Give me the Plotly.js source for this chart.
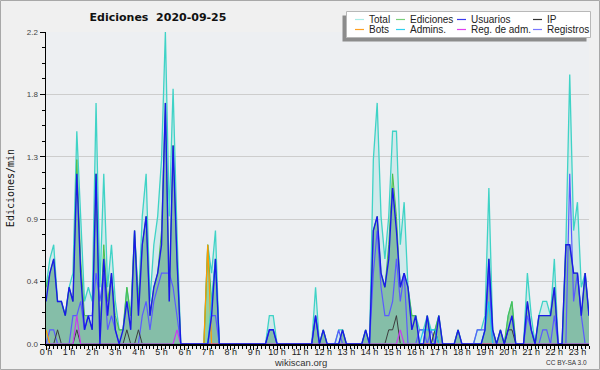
<!DOCTYPE html>
<html>
<head>
<meta charset="utf-8">
<script src="https://cdn.plot.ly/plotly-3.0.1.min.js"></script>
<style>html,body{margin:0;padding:0;background:#f0f0f0;}#chart{width:600px;height:370px;}</style>
</head>
<body>
<div id="chart"></div>
<script>
// 10-minute slots, 00:00 .. 23:30 (edits per minute)
const hourLabels = ["0 h","1 h","2 h","3 h","4 h","5 h","6 h","7 h","8 h","9 h","10 h","11 h","12 h","13 h","14 h","15 h","16 h","17 h","18 h","19 h","20 h","21 h","22 h","23 h"];
const yTickVals = [0, 0.44, 0.88, 1.32, 1.76, 2.2];
const yTickText = ["0.0","0.4","0.9","1.3","1.8","2.2"];

const total = [
 0.4,0.6,0.7,0.3,0.3,0.2,  0.4,0.5,1.5,0.9,0.3,0.4,  0.3,1.7,0.4,1.2,0.4,0.7,  0.3,0.1,0.1,0.4,0.2,0.8,
 0.3,0.9,1.2,0.3,0.7,0.9,  1.3,2.2,0.9,1.8,0.8,0,    0,0,0,0,0,0,              0.7,0.5,0.8,0,0,0,
 0,0,0,0,0,0,              0,0,0,0,0.2,0.2,          0,0,0,0,0,0,              0,0,0,0,0.4,0,
 0.1,0,0,0,0.1,0.1,        0,0,0,0,0,0.1,            0,1.3,1.7,0.9,0.6,0.9,    1.5,1.5,0.7,1.0,0.4,0.2,
 0.2,0.1,0.1,0.2,0.1,0.1,  0.2,0,0,0,0,0.1,          0,0,0,0,0.1,0.1,          0.2,1.1,0.1,0,0.1,0,
 0.2,0.3,0,0,0,0.5,        0.2,0,0.2,0.3,0.3,0.2,    0.6,0,0,0.7,1.9,0.8,      1.0,0.4,0.5,0.2];
const ediciones = [
 0.4,0.5,0.6,0.3,0.3,0.2,  0.4,0.3,1.3,0.6,0.2,0.2,  0.1,1.2,0.1,0.7,0.3,0.5,  0.2,0.1,0.1,0.4,0.2,0.8,
 0.3,0.7,0.9,0.2,0.4,0.5,  0.8,1.7,0.4,1.4,0.6,0,    0,0,0,0,0,0,              0.7,0.3,0.6,0,0,0,
 0,0,0,0,0,0,              0,0,0,0,0.1,0.1,          0,0,0,0,0,0,              0,0,0,0,0.2,0,
 0.1,0,0,0,0,0.1,          0,0,0,0,0,0.1,            0,0.8,0.9,0.5,0.4,0.7,    1.2,0.9,0.4,0.5,0.4,0.2,
 0.2,0,0,0.2,0,0.1,        0.2,0,0,0,0,0.1,          0,0,0,0,0,0,              0.1,0.6,0.1,0,0.1,0,
 0.2,0.3,0,0,0,0.3,        0.1,0,0.2,0.2,0.2,0.2,    0.4,0,0,0.7,0.7,0.5,      0.5,0.2,0.5,0.2];
const usuarios = [
 0.3,0.5,0.6,0.3,0.3,0.2,  0.4,0.3,1.2,0.5,0.1,0.2,  0.1,1.2,0,0.6,0.2,0.5,    0.1,0,0.1,0.3,0.1,0.8,
 0.2,0.7,0.9,0.2,0.4,0.5,  0.7,1.7,0.3,1.4,0.6,0,    0,0,0,0,0,0,              0,0.2,0.6,0,0,0,
 0,0,0,0,0,0,              0,0,0,0,0.1,0.1,          0,0,0,0,0,0,              0,0,0,0,0.2,0,
 0.1,0,0,0,0,0.1,          0,0,0,0,0,0.1,            0,0.8,0.9,0.5,0.4,0.6,    1.1,0.8,0.4,0.5,0.4,0.1,
 0.2,0,0,0.2,0,0,          0.2,0,0,0,0,0.1,          0,0,0,0,0,0,              0.1,0.6,0.1,0,0.1,0,
 0.1,0.2,0,0,0,0.3,        0.1,0,0.2,0.2,0.2,0.2,    0.4,0,0,0.7,0.7,0.5,      0.5,0.2,0.5,0.2];
const ip = [
 0,0,0,0.1,0,0,            0,0,0.1,0,0,0,            0,0,0,0,0,0,              0,0,0,0.1,0,0,
 0.1,0,0,0,0,0,            0,0,0,0,0,0,              0,0,0,0,0,0,              0,0,0,0,0,0,
 0,0,0,0,0,0,              0,0,0,0,0,0,              0,0,0,0,0,0,              0,0,0,0,0,0,
 0,0,0,0,0,0,              0,0,0,0,0,0,              0,0,0,0,0,0.1,            0.1,0.2,0,0,0,0,
 0,0,0,0,0,0.1,            0,0,0,0,0,0,              0,0,0,0,0,0,              0,0,0,0,0,0,
 0.1,0.1,0,0,0,0,          0,0,0,0,0,0,              0,0,0,0,0,0,              0,0,0,0];
const bots = [
 0.1,0,0,0,0,0,            0,0,0,0,0,0,              0,0,0,0,0,0,              0,0,0,0,0,0,
 0,0,0,0,0,0,              0,0,0,0,0,0,              0,0,0,0,0,0,              0.7,0,0,0,0,0,
 0,0,0,0,0,0,              0,0,0,0,0,0,              0,0,0,0,0,0,              0,0,0,0,0,0,
 0,0,0,0,0,0,              0,0,0,0,0,0,              0,0,0,0,0,0,              0,0,0,0,0,0,
 0,0,0,0,0,0,              0,0,0,0,0,0,              0,0,0,0,0,0,              0,0,0,0,0,0,
 0,0,0,0,0,0,              0,0,0,0,0,0,              0,0,0,0,0,0,              0,0,0,0];
const admins = [
 0,0,0,0,0,0,              0,0,0,0,0,0,              0,0,0,0,0,0,              0,0,0,0,0,0,
 0,0,0,0,0,0,              0,0,0,0,0,0,              0,0,0,0,0,0,              0,0.3,0.6,0,0,0,
 0,0,0,0,0,0,              0,0,0,0,0,0,              0,0,0,0,0,0,              0,0,0,0,0,0,
 0,0,0,0,0,0,              0,0,0,0,0,0,              0,0,0,0,0,0,              0,0,0,0,0,0,
 0,0,0.1,0.1,0.1,0.1,      0,0,0,0,0,0,              0,0,0,0,0,0,              0.1,0.3,0,0,0,0,
 0,0,0,0,0,0,              0,0,0,0,0,0,              0,0,0,0,0,0,              0,0,0,0];
const regAdm = [
 0,0,0,0,0,0,              0,0,0.2,0,0,0,            0,0,0,0,0,0,              0,0,0,0,0,0,
 0,0,0,0,0,0,              0,0,0,0,0.1,0,            0,0,0,0,0,0,              0,0,0,0,0,0,
 0,0,0,0,0,0,              0,0,0,0,0,0,              0,0,0,0,0,0,              0,0,0,0,0,0,
 0,0,0,0,0,0,              0,0,0,0,0,0,              0,0,0,0,0,0,              0,0,0.1,0,0,0,
 0,0,0,0,0,0,              0,0,0,0,0,0,              0,0,0,0,0,0,              0,0,0,0,0,0,
 0,0,0,0,0,0,              0,0,0,0,0,0,              0,0,0,0,0,0,              0,0,0,0];
const registros = [
 0,0.1,0.1,0,0,0,          0,0.2,0.2,0.3,0.1,0.2,    0.2,0.5,0.3,0.5,0.1,0.2,  0.1,0,0,0,0,0,
 0,0.2,0.3,0.1,0.3,0.4,    0.5,0.5,0.5,0.4,0.2,0,    0,0,0,0,0,0,              0,0.2,0.2,0,0,0,
 0,0,0,0,0,0,              0,0,0,0,0.1,0.1,          0,0,0,0,0,0,              0,0,0,0,0.2,0,
 0,0,0,0,0.1,0,            0,0,0,0,0,0,              0,0.5,0.8,0.4,0.2,0.2,    0.3,0.6,0.3,0.5,0,0,
 0,0.1,0.1,0,0.1,0,        0,0,0,0,0,0,              0,0,0,0,0.1,0.1,          0.1,0.5,0,0,0,0,
 0,0,0,0,0,0.2,            0.1,0,0,0.1,0.1,0,        0.2,0,0,0,1.2,0.3,        0.5,0.2,0,0];

const names = ["Total","Ediciones","Usuarios","IP","Bots","Admins.","Reg. de adm.","Registros"];
const colors = {"Total":"#3fd3c6","Ediciones":"#4cbf4c","Usuarios":"#1a1ae8","IP":"#3c3c3c","Bots":"#ff9a00","Admins.":"#1fc8e8","Reg. de adm.":"#c83cf0","Registros":"#5a5aff"};
const legendColors = {"Total":"#a8ece6","Ediciones":"#7ad07a","Usuarios":"#3a3af0","IP":"#333333","Bots":"#ffa020","Admins.":"#30d0ee","Reg. de adm.":"#e040f0","Registros":"#7878ff"};

const x = total.map((_, i) => i / 6);

function tr(name, y, opts) {
  return Object.assign({type:"scatter", mode:"lines", name:name, x:x, y:y,
    line:{color:colors[name], width:1.2}, hoverinfo:"skip", showlegend:false}, opts || {});
}
const data = [
  tr("Total", total, {fill:"tozeroy", fillcolor:"rgba(64,208,196,0.16)", line:{color:colors["Total"], width:1.3}}),
  tr("Ediciones", ediciones, {fill:"tozeroy", fillcolor:"rgba(70,180,70,0.45)", line:{color:colors["Ediciones"], width:1}}),
  tr("Usuarios", usuarios, {fill:"tozeroy", fillcolor:"rgba(30,60,220,0.12)", line:{color:"rgba(0,0,0,0)", width:0}}),
  tr("Registros", registros, {line:{color:colors["Registros"], width:1.2}}),
  tr("IP", ip, {line:{color:colors["IP"], width:1}}),
  tr("Bots", bots, {line:{color:colors["Bots"], width:1.2}}),
  tr("Admins.", admins, {line:{color:colors["Admins."], width:1.2}}),
  tr("Reg. de adm.", regAdm, {line:{color:colors["Reg. de adm."], width:1.2}}),
  tr("Usuarios", usuarios, {line:{color:colors["Usuarios"], width:1.4}})
];

// pixel -> paper helpers (plot area: x 46..589, y 32..344)
const L = 46, R = 589, T = 32, B = 344;
const px = v => (v - L) / (R - L);
const py = v => (B - v) / (B - T);

const shapes = [
  {type:"rect", xref:"paper", yref:"paper", x0:px(0.5), x1:px(599.5), y0:py(369.5), y1:py(0.5), line:{color:"#a8a8a8", width:1}, fillcolor:"rgba(0,0,0,0)", layer:"below"},
  {type:"rect", xref:"paper", yref:"paper", x0:px(342.5), x1:px(586.5), y0:py(41.5), y1:py(15.5), line:{width:0}, fillcolor:"#8c8c8c"},
  {type:"rect", xref:"paper", yref:"paper", x0:px(346.5), x1:px(590.5), y0:py(37.5), y1:py(11.5), line:{color:"#b8b8b8", width:1}, fillcolor:"#ffffff"}
];
const annotations = [
  {text:"wikiscan.org", xref:"paper", yref:"paper", x:px(300), y:py(362), showarrow:false, xanchor:"center", yanchor:"middle", font:{family:"Liberation Sans, Arial, sans-serif", size:9.5, color:"#333"}},
  {text:"CC BY-SA 3.0", xref:"paper", yref:"paper", x:px(589), y:py(362.5), showarrow:false, xanchor:"right", yanchor:"middle", font:{family:"Liberation Sans, Arial, sans-serif", size:6.5, color:"#333"}}
];
const colX = [367, 408, 469, 545];
const rowY = [19.5, 29.5];
names.forEach((n, k) => {
  const cx = colX[k % 4], cy = rowY[Math.floor(k / 4)];
  shapes.push({type:"line", xref:"paper", yref:"paper", x0:px(cx - 12), x1:px(cx - 3), y0:py(cy), y1:py(cy), line:{color:legendColors[n], width:1.2}});
  annotations.push({text:n, xref:"paper", yref:"paper", x:px(cx), y:py(cy), showarrow:false, xanchor:"left", yanchor:"middle", font:{family:"Liberation Sans, Arial, sans-serif", size:10, color:"#222"}});
});

const layout = {
  width:600, height:370,
  margin:{l:L, r:600 - R, t:T, b:370 - B, pad:0},
  paper_bgcolor:"#f0f0f0", plot_bgcolor:"#edeff2",
  showlegend:false,
  title:{text:"<b>Ediciones\u00a0\u00a02020-09-25</b>", xref:"container", yref:"container", x:158/600, xanchor:"center", y:1 - 17/370, yanchor:"middle",
    font:{family:"DejaVu Sans, sans-serif", size:11, color:"#111"}},
  xaxis:{range:[0, 141/6], tickmode:"array", tickvals:hourLabels.map((_, h) => h), ticktext:hourLabels,
    ticks:"outside", ticklen:4, tickwidth:1, tickcolor:"#000", showline:true, linecolor:"#000", linewidth:1.5,
    ticklabelstandoff:-5,
    showgrid:false, zeroline:false, fixedrange:true,
    tickfont:{family:"Liberation Sans, Arial, sans-serif", size:9, color:"#222"},
    minor:{tickmode:"linear", tick0:0, dtick:1/6, ticks:"outside", ticklen:3, tickcolor:"#000", tickwidth:1, showgrid:false}},
  yaxis:{range:[0, 2.2], tickmode:"array", tickvals:yTickVals, ticktext:yTickText,
    ticks:"outside", ticklen:5, tickwidth:1, tickcolor:"#000", showline:true, linecolor:"#000", linewidth:1.5,
    showgrid:true, gridcolor:"#cdcdcd", gridwidth:1, zeroline:false, fixedrange:true,
    tickfont:{family:"Liberation Sans, Arial, sans-serif", size:8, color:"#444"},
    minor:{tickmode:"linear", tick0:0, dtick:0.11, ticks:"outside", ticklen:3, tickcolor:"#000", tickwidth:1, showgrid:false},
    title:{text:"Ediciones/min", standoff:10, font:{family:"DejaVu Sans Mono, monospace", size:10, color:"#111"}}},
  shapes:shapes, annotations:annotations
};
Plotly.newPlot("chart", data, layout, {displayModeBar:false, staticPlot:true});
</script>
</body>
</html>
